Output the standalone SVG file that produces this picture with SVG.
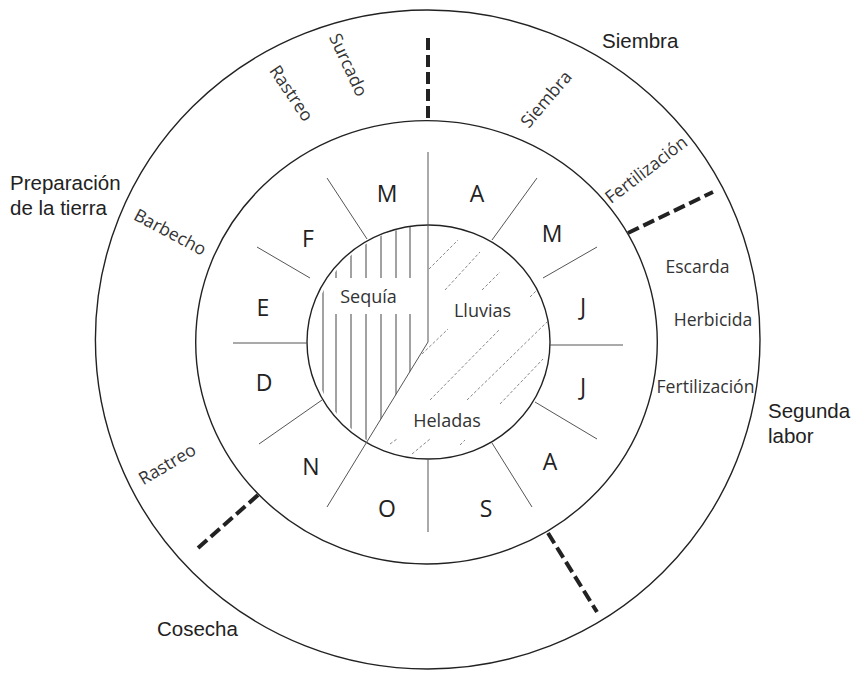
<svg xmlns="http://www.w3.org/2000/svg" width="854" height="673" viewBox="0 0 854 673">
<style>
.ring{fill:none;stroke:#222;stroke-width:1.4}
.spoke{stroke:#555;stroke-width:1}
.vh{stroke:#444;stroke-width:1}
.dh{stroke:#888;stroke-width:1;stroke-dasharray:3 2}
.sep{stroke:#222;stroke-width:4;stroke-dasharray:12 5}
.mo{font-family:"Open Sans","Noto Sans",sans-serif;font-size:23px;fill:#222;text-anchor:middle}
.in{font-family:"Open Sans","Noto Sans",sans-serif;font-size:18px;fill:#333;text-anchor:middle}
.rl{font-family:"Open Sans","Noto Sans",sans-serif;font-size:17.6px;fill:#333;text-anchor:middle}
.ol{font-family:"Liberation Sans",Arial,sans-serif;font-size:20.5px;fill:#222}
</style>
<defs>
<clipPath id="dry"><path d="M428,225 L428,342 L368,441 A121.5,117 0 0,1 428.5,225 Z"/></clipPath>
</defs>
<rect width="854" height="673" fill="#fff"/>
<g id="rings">
<ellipse class="ring" cx="427.7" cy="339.5" rx="332.3" ry="329.5"/>
<ellipse class="ring" cx="426.5" cy="342.3" rx="230.8" ry="221.7"/>
<ellipse class="ring" cx="428.5" cy="342" rx="121.5" ry="117"/>
</g>
<g id="hatch-sequia" clip-path="url(#dry)">
<line class="vh" x1="323" y1="220" x2="323" y2="470"/>
<line class="vh" x1="336" y1="220" x2="336" y2="278"/><line class="vh" x1="336" y1="314" x2="336" y2="470"/>
<line class="vh" x1="351" y1="220" x2="351" y2="278"/><line class="vh" x1="351" y1="314" x2="351" y2="470"/>
<line class="vh" x1="366" y1="220" x2="366" y2="278"/><line class="vh" x1="366" y1="314" x2="366" y2="470"/>
<line class="vh" x1="381" y1="220" x2="381" y2="278"/><line class="vh" x1="381" y1="314" x2="381" y2="470"/>
<line class="vh" x1="396" y1="220" x2="396" y2="278"/><line class="vh" x1="396" y1="314" x2="396" y2="470"/>
<line class="vh" x1="410" y1="220" x2="410" y2="278"/><line class="vh" x1="410" y1="314" x2="410" y2="470"/>
</g>
<g id="hatch-lluvias">
<line class="dh" x1="429" y1="269" x2="458" y2="240"/>
<line class="dh" x1="445" y1="290" x2="480" y2="252"/>
<line class="dh" x1="482" y1="290" x2="500" y2="272"/>
<line class="dh" x1="530" y1="297" x2="537" y2="290"/>
<line class="dh" x1="422" y1="354" x2="448" y2="329"/>
<line class="dh" x1="430" y1="400" x2="500" y2="329"/>
<line class="dh" x1="467" y1="400" x2="547" y2="322"/>
<line class="dh" x1="500" y1="404" x2="543" y2="359"/>
<line class="dh" x1="412" y1="454" x2="430" y2="439"/>
<line class="dh" x1="390" y1="444" x2="397" y2="439"/>
<line class="dh" x1="460" y1="445" x2="465" y2="440"/>
</g>
<g id="dividers">
<line class="spoke" x1="428" y1="152" x2="428" y2="342"/>
<line class="spoke" x1="428" y1="342" x2="327" y2="507"/>
<line class="spoke" x1="428" y1="459" x2="428" y2="532"/>
<line class="spoke" x1="492" y1="240" x2="537" y2="178"/>
<line class="spoke" x1="543" y1="278" x2="597" y2="247"/>
<line class="spoke" x1="550" y1="345" x2="623" y2="345"/>
<line class="spoke" x1="535" y1="402" x2="597" y2="439"/>
<line class="spoke" x1="492" y1="443" x2="532" y2="507"/>
<line class="spoke" x1="322" y1="400" x2="259" y2="444"/>
<line class="spoke" x1="233" y1="343" x2="307" y2="343"/>
<line class="spoke" x1="257" y1="247" x2="310" y2="278"/>
<line class="spoke" x1="327" y1="178" x2="367" y2="239"/>
</g>
<g id="stage-separators">
<line class="sep" x1="428" y1="38" x2="428" y2="121"/>
<line class="sep" x1="628" y1="233" x2="713" y2="192"/>
<line class="sep" x1="548" y1="533" x2="597" y2="612"/>
<line class="sep" x1="258" y1="495" x2="198" y2="548"/>
</g>
<g id="months">
<text class="mo" x="387" y="202">M</text>
<text class="mo" x="477" y="202">A</text>
<text class="mo" x="552" y="242">M</text>
<text class="mo" x="583" y="315">J</text>
<text class="mo" x="583" y="395">J</text>
<text class="mo" x="550" y="470">A</text>
<text class="mo" x="486" y="517">S</text>
<text class="mo" x="387" y="517">O</text>
<text class="mo" x="311" y="475">N</text>
<text class="mo" x="264" y="391">D</text>
<text class="mo" x="263" y="316">E</text>
<text class="mo" x="308" y="247">F</text>
</g>
<g id="climate">
<text class="in" x="368.5" y="303">Sequía</text>
<text class="in" x="482.5" y="317">Lluvias</text>
<text class="in" x="447" y="427">Heladas</text>
</g>
<g id="tasks">
<text class="rl" transform="translate(348,65) rotate(65)" dy=".32em">Surcado</text>
<text class="rl" transform="translate(291,93.5) rotate(56)" dy=".32em">Rastreo</text>
<text class="rl" transform="translate(170,232.5) rotate(28)" dy=".32em">Barbecho</text>
<text class="rl" transform="translate(546.5,99.5) rotate(-49.5)" dy=".32em">Siembra</text>
<text class="rl" transform="translate(646.5,170) rotate(-37.6)" dy=".32em">Fertilización</text>
<text class="rl" transform="translate(167.5,464.5) rotate(-30.7)" dy=".32em">Rastreo</text>
<text class="rl" x="697.5" y="273">Escarda</text>
<text class="rl" x="713" y="326">Herbicida</text>
<text class="rl" x="705.5" y="393">Fertilización</text>
</g>
<g id="stages">
<text class="ol" x="602" y="48">Siembra</text>
<text class="ol" x="10" y="190">Preparación</text>
<text class="ol" x="10" y="215">de la tierra</text>
<text class="ol" x="768" y="418">Segunda</text>
<text class="ol" x="768" y="443">labor</text>
<text class="ol" x="157" y="636">Cosecha</text>
</g>
</svg>
